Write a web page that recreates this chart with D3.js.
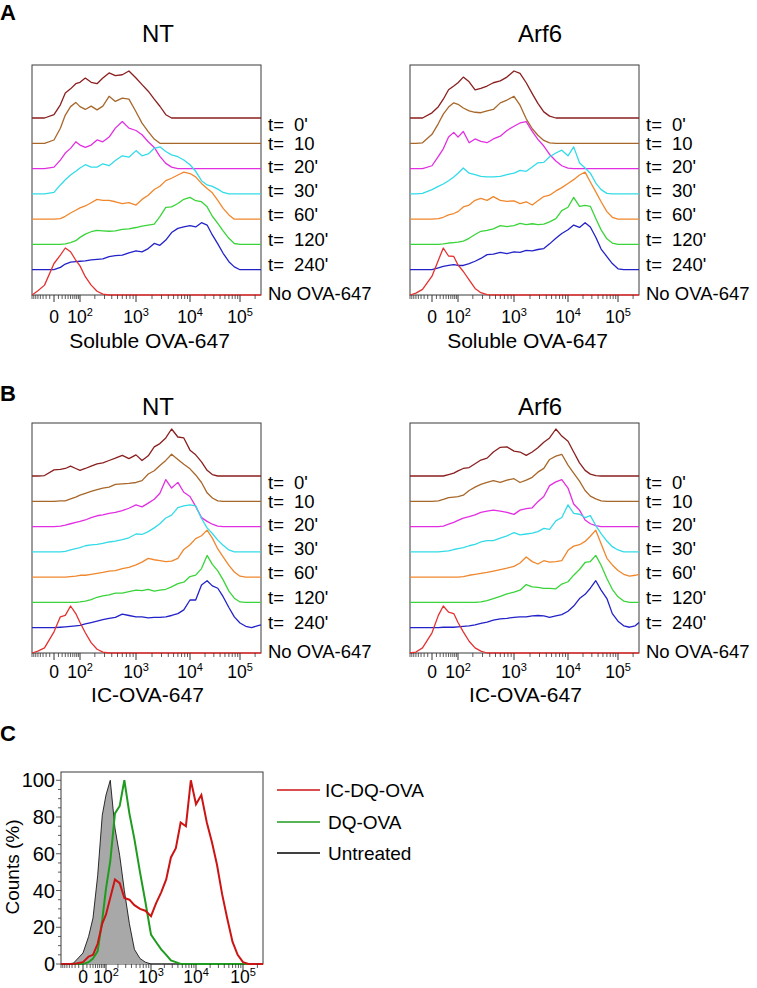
<!DOCTYPE html>
<html><head><meta charset="utf-8">
<script src="https://cdn.jsdelivr.net/npm/d3@7"></script>
<style>
body{margin:0;background:#fff}
svg{display:block}
text{font-family:"Liberation Sans",Arial,Helvetica,sans-serif;fill:#000}
</style>
</head><body>
<svg id="chart" width="757" height="988"></svg>
<script>
// ---------------- DATA ----------------
// fluorescence bins (intensity values along the biexponential x axis)
const bins = [-80,-50,-25,0,15,30,50,75,100,130,170,220,280,360,460,600,770,1000,1300,1700,2200,2800,3600,4600,6000,7700,10000,13000,17000,22000,28000,36000,46000,60000,77000,100000,130000,170000,220000,262144];

const seriesKeys = ["t0","t10","t20","t30","t60","t120","t240","none"];
const seriesLabels = [["t=","0'"],["t=","10"],["t=","20'"],["t=","30'"],["t=","60'"],["t=","120'"],["t=","240'"],["No OVA-647",""]];
const seriesColors = ["#8a1f1f","#a8672a","#e22fe2","#33dbe8","#f0872d","#3ad43a","#2222c8","#e53030"];

const majorTicks = [0,100,1000,10000,100000];
const majorTickLabels = [["0",""],["10","2"],["10","3"],["10","4"],["10","5"]];

// Panel A, NT (soluble OVA-647), % of mode
const aNT_t0   = [0,0,0,7,28,53,62,73,76,85,76,73,85,96,90,92,100,85,71,57,40,25,7,0,0,0,0,0,0,0,0,0,0,0,0,0,0,0,0,0];
const aNT_t10  = [0,0,0,7,32,60,78,87,78,72,79,71,79,100,89,96,94,67,43,25,9,0,0,0,0,0,0,0,0,0,0,0,0,0,0,0,0,0,0,0];
const aNT_t20  = [0,0,0,3,18,33,43,57,50,45,50,61,57,67,86,100,86,81,72,57,45,26,11,3,0,0,0,0,0,0,0,0,0,0,0,0,0,0,0,0];
const aNT_t30  = [0,0,0,3,19,30,40,48,55,62,57,57,64,60,71,81,78,92,81,85,97,100,90,83,79,72,62,48,28,19,16,10,3,0,0,0,0,0,0,0];
const aNT_t60  = [0,0,0,0,1,6,13,19,24,28,35,42,40,40,37,33,35,30,42,51,63,70,82,87,94,100,97,90,76,65,56,40,23,9,0,0,0,0,0,0];
const aNT_t120 = [0,0,0,0,0,1,4,8,15,22,27,30,29,28,29,32,33,36,39,41,43,59,79,80,87,96,100,93,91,80,60,45,29,13,2,0,0,0,0,0];
const aNT_t240 = [0,0,0,0,5,12,16,17,18,19,21,22,23,28,30,31,36,40,38,45,56,52,63,79,88,91,94,91,100,95,74,55,35,17,6,0,0,0,0,0];
const aNT_none = [0,9,21,67,85,100,92,74,62,39,21,8,2,0,0,0,0,0,0,0,0,0,0,0,0,0,0,0,0,0,0,0,0,0,0,0,0,0,0,0];

// Panel A, Arf6
const aArf_t0   = [0,0,0,11,24,40,60,68,75,87,77,60,63,68,75,79,87,100,95,75,52,31,13,4,0,0,0,0,0,0,0,0,0,0,0,0,0,0,0,0];
const aArf_t10  = [0,0,1,19,42,62,77,86,83,75,69,66,65,69,72,86,92,100,81,52,31,17,6,1,0,0,0,0,0,0,0,0,0,0,0,0,0,0,0,0];
const aArf_t20  = [0,0,0,6,26,42,67,77,67,79,55,63,58,55,63,69,81,90,97,100,79,62,48,30,16,6,1,0,0,0,0,0,0,0,0,0,0,0,0,0];
const aArf_t30  = [0,0,1,9,16,21,28,36,44,55,44,41,37,36,36,37,41,44,50,48,57,66,67,79,87,93,81,100,66,55,44,23,9,1,0,0,0,0,0,0];
const aArf_t60  = [0,0,0,0,1,4,9,12,16,26,30,40,44,40,48,40,38,39,33,37,30,39,48,51,60,67,76,84,94,100,79,58,37,16,4,0,0,0,0,0];
const aArf_t120 = [0,0,0,0,0,1,3,4,5,7,13,21,28,30,33,40,38,40,45,42,44,42,43,48,55,72,79,100,81,83,81,55,31,12,3,0,0,0,0,0];
const aArf_t240 = [0,0,0,0,4,7,9,11,9,9,13,18,24,32,33,37,34,38,37,41,40,43,45,55,67,77,85,95,90,100,91,69,44,28,13,2,0,0,0,0];
const aArf_none = [0,4,12,40,74,100,83,82,64,50,32,14,5,1,0,0,0,0,0,0,0,0,0,0,0,0,0,0,0,0,0,0,0,0,0,0,0,0,0,0];

// Panel B, NT (IC-OVA-647)
const bNT_t0   = [0,0,1,13,14,16,21,16,12,16,21,26,28,33,38,44,37,45,33,43,62,69,81,100,83,81,55,45,30,12,3,0,0,0,0,0,0,0,0,0];
const bNT_t10  = [0,0,0,0,1,1,5,9,13,17,21,25,28,30,36,37,38,40,44,58,65,76,87,100,89,79,69,56,40,18,7,1,0,0,0,0,0,0,0,0];
const bNT_t20  = [0,0,0,0,1,3,6,9,11,14,19,23,25,28,30,34,39,46,42,50,58,71,100,82,94,73,64,43,19,11,5,1,0,0,0,0,0,0,0,0];
const bNT_t30  = [0,0,0,0,0,1,4,7,9,13,15,16,18,21,23,26,30,38,37,43,51,60,72,78,94,98,100,98,71,51,39,25,14,4,0,0,0,0,0,0];
const bNT_t60  = [0,0,0,0,0,0,1,2,4,4,6,8,10,13,14,18,21,26,32,40,37,35,33,34,40,59,69,82,88,100,83,60,43,25,11,2,0,0,0,0];
const bNT_t120 = [0,0,0,0,0,0,0,0,1,3,6,11,14,16,20,20,23,26,25,28,24,26,28,33,40,43,55,58,72,100,81,67,48,24,9,1,0,0,0,0];
const bNT_t240 = [0,0,0,0,1,2,3,4,5,8,11,14,17,20,22,29,26,23,23,21,22,22,23,26,30,38,59,59,91,100,89,84,66,43,23,10,3,0,4,6];
const bNT_none = [0,4,11,45,77,80,100,84,65,43,22,8,2,0,0,0,0,0,0,0,0,0,0,0,0,0,0,0,0,0,0,0,0,0,0,0,0,0,0,0];

// Panel B, Arf6
const bArf_t0   = [0,0,0,0,0,0,3,6,11,16,18,26,34,38,51,61,62,53,51,44,51,60,72,81,100,85,74,51,28,12,4,1,0,0,0,0,0,0,0,0];
const bArf_t10  = [0,0,0,0,1,4,8,9,10,13,23,30,36,40,44,40,45,48,40,45,51,62,70,89,96,100,77,60,43,23,11,5,1,0,0,0,0,0,0,0];
const bArf_t20  = [0,0,0,0,0,1,5,9,13,18,21,25,30,33,35,33,30,26,35,38,40,53,64,87,95,100,82,48,35,14,6,2,0,0,0,0,0,0,0,0];
const bArf_t30  = [0,0,0,0,0,1,2,5,7,9,13,16,21,24,24,29,34,41,36,38,40,43,50,48,66,73,100,82,80,73,77,56,39,23,11,4,0,0,0,0];
const bArf_t60  = [0,0,0,0,0,0,0,0,0,1,4,6,8,10,13,16,19,23,30,43,33,28,35,32,33,35,57,66,69,76,87,100,71,40,26,14,6,2,4,6];
const bArf_t120 = [0,0,0,0,0,0,0,0,0,0,0,0,1,4,8,13,18,22,26,38,33,32,30,30,29,39,44,58,70,85,87,100,79,51,28,12,3,0,0,0];
const bArf_t240 = [0,0,0,0,0,1,1,1,2,3,4,6,9,12,16,19,20,22,23,23,25,26,25,22,25,28,35,46,62,71,84,100,80,62,30,14,4,1,4,11];
const bArf_none = [0,2,11,43,80,100,87,84,65,45,25,11,4,0,0,0,0,0,0,0,0,0,0,0,0,0,0,0,0,0,0,0,0,0,0,0,0,0,0,0];

// Panel C, Counts (%)
const cNames  = ["IC-DQ-OVA","DQ-OVA","Untreated"];
const cColors = ["#cc1414","#1f9c1f","#000000"];
const cUntreated = [0,0,0.5,6,15,25,48,81,92,100,74,59,40,22,8,3,1,0,0,0,0,0,0,0,0,0,0,0,0,0,0,0,0,0,0,0,0,0,0,0];
const cDQ        = [0,0,0,0,1,3,7,24,41,56,82,86,100,82,68,50,34,16,12,8,5,2,1,0,0,0,0,0,0,0,0,0,0,0,0,0,0,0,0,0];
const cICDQ      = [0,0,0,1,4,5,11,22,27,36,46,44,36,35,32,30,29,26,33,39,46,58,63,77,75,100,87,92,77,66,54,38,25,12,5,1,0,0,0,0];
const cYTicks = [0,20,40,60,80,100];

// ---------------- DRAWING ----------------
const svg = d3.select("#chart");
const anchors = [-80,0,100,1000,10000,100000,262144];
const sym = d3.scaleSymlog().constant(46).domain([-80,262144]).range([0,1]);
function makeX(stops){
  const lin = d3.scaleLinear().domain(anchors.map(v=>sym(v))).range(stops);
  return v => lin(sym(v));
}
const minorTicks = [];
for (let n=1;n<=5;n++) for (let k=1;k<=9;k++){ const v=k*Math.pow(10,n); if(v<=262144 && !majorTicks.includes(v)) minorTicks.push(v); }
for (let k=1;k<=8;k++) minorTicks.push(-k*10);

function xAxis(g, x, y, labelY, fs){
  g.selectAll("line.mi").data(minorTicks).join("line").attr("class","mi")
    .attr("x1",d=>x(d)).attr("x2",d=>x(d)).attr("y1",y).attr("y2",y+4)
    .attr("stroke","#333").attr("stroke-width",0.8);
  g.selectAll("line.ma").data(majorTicks).join("line").attr("class","ma")
    .attr("x1",d=>x(d)).attr("x2",d=>x(d)).attr("y1",y).attr("y2",y+7)
    .attr("stroke","#333").attr("stroke-width",1);
  const t = g.selectAll("text.tl").data(majorTicks).join("text").attr("class","tl")
    .attr("x",d=>x(d)).attr("y",labelY).attr("text-anchor","middle").attr("font-size",fs);
  t.append("tspan").text((d,i)=>majorTickLabels[i][0]);
  t.append("tspan").attr("dy",-7).attr("font-size",11).text((d,i)=>majorTickLabels[i][1]);
}

function ridgePanel(cfg){
  const g = svg.append("g");
  const x = makeX(cfg.stops);
  const left = cfg.stops[0], right = cfg.stops[6];
  const base = d3.scalePoint().domain(seriesKeys).range([cfg.bottom-177, cfg.bottom]);
  const h = d3.scaleLinear().domain([0,100]).range([0,47]);
  g.append("rect").attr("x",left).attr("y",cfg.top).attr("width",right-left).attr("height",cfg.bottom-cfg.top)
    .attr("fill","none").attr("stroke","#3a3a3a").attr("stroke-width",1);
  cfg.series.forEach((arr,si)=>{
    const key = seriesKeys[si];
    const line = d3.line().x((d,i)=>x(bins[i])).y(d=>base(key)-h(d));
    g.append("path").datum(arr).attr("d",line).attr("fill","none")
      .attr("stroke",seriesColors[si]).attr("stroke-width",1.3).attr("stroke-linejoin","round");
  });
  xAxis(g, x, cfg.bottom, cfg.bottom+cfg.tickDy, 17.5);
  g.append("text").attr("x",cfg.titleX).attr("y",cfg.titleY).attr("text-anchor","middle").attr("font-size",24).text(cfg.title);
  g.append("text").attr("x",(left+right)/2 + cfg.axisDx).attr("y",cfg.bottom+cfg.axisDy).attr("text-anchor","middle").attr("font-size",21).text(cfg.xlabel);
  const labOff = [-171,-152,-129,-105,-81,-56,-31,-2];
  seriesLabels.forEach((lab,i)=>{
    const t = g.append("text").attr("x",right+7).attr("y",cfg.bottom+labOff[i]+6.5).attr("font-size",18.5);
    t.append("tspan").text(lab[0]);
    if(lab[1]) t.append("tspan").attr("x",right+33).text(lab[1]);
  });
}

ridgePanel({stops:[32,54,80,136,190,240,261], top:65, bottom:295, title:"NT", titleX:158, titleY:42, xlabel:"Soluble OVA-647", tickDy:28, axisDy:53, axisDx:3,
  series:[aNT_t0,aNT_t10,aNT_t20,aNT_t30,aNT_t60,aNT_t120,aNT_t240,aNT_none]});
ridgePanel({stops:[410,432,458,514,568,618,639], top:65, bottom:295, title:"Arf6", titleX:540, titleY:42, xlabel:"Soluble OVA-647", tickDy:28, axisDy:53, axisDx:3,
  series:[aArf_t0,aArf_t10,aArf_t20,aArf_t30,aArf_t60,aArf_t120,aArf_t240,aArf_none]});
ridgePanel({stops:[32,54,80,136,190,240,261], top:423, bottom:653, title:"NT", titleX:158, titleY:415, xlabel:"IC-OVA-647", tickDy:25, axisDy:49, axisDx:1,
  series:[bNT_t0,bNT_t10,bNT_t20,bNT_t30,bNT_t60,bNT_t120,bNT_t240,bNT_none]});
ridgePanel({stops:[410,432,458,514,568,618,639], top:423, bottom:653, title:"Arf6", titleX:540, titleY:415, xlabel:"IC-OVA-647", tickDy:25, axisDy:49, axisDx:1,
  series:[bArf_t0,bArf_t10,bArf_t20,bArf_t30,bArf_t60,bArf_t120,bArf_t240,bArf_none]});

// panel letters
[["A",20],["B",401],["C",741]].forEach(([l,y])=>{
  svg.append("text").attr("x",0).attr("y",y).attr("font-size",22).attr("font-weight","bold").text(l);
});

// ---- Panel C ----
(function(){
  const g = svg.append("g");
  const stops = [61,83,106,151,196,243,263];
  const x = makeX(stops);
  const top = 772, bottom = 964, left = 61, right = 263;
  const y = d3.scaleLinear().domain([0,104.5]).range([bottom, top]);
  g.append("rect").attr("x",left).attr("y",top).attr("width",right-left).attr("height",bottom-top)
    .attr("fill","none").attr("stroke","#3a3a3a").attr("stroke-width",1);
  const area = d3.area().x((d,i)=>x(bins[i])).y0(y(0)).y1(d=>y(d));
  const line = d3.line().x((d,i)=>x(bins[i])).y(d=>y(d));
  g.append("path").datum(cUntreated).attr("d",area).attr("fill","#a8a8a8");
  g.append("path").datum(cUntreated).attr("d",line).attr("fill","none").attr("stroke","#000").attr("stroke-width",0.8);
  g.append("path").datum(cDQ).attr("d",line).attr("fill","none").attr("stroke",cColors[1]).attr("stroke-width",2);
  g.append("path").datum(cICDQ).attr("d",line).attr("fill","none").attr("stroke",cColors[0]).attr("stroke-width",2);
  xAxis(g, x, bottom, 983, 17.5);
  // y axis
  const yMinor = d3.range(0,101,5);
  g.selectAll("line.ym").data(yMinor).join("line").attr("class","ym")
    .attr("x1",left).attr("x2",d=>cYTicks.includes(d)?left-5:left-3).attr("y1",d=>y(d)).attr("y2",d=>y(d))
    .attr("stroke","#333").attr("stroke-width",0.8);
  g.selectAll("text.yl").data(cYTicks).join("text").attr("class","yl")
    .attr("x",55).attr("y",d=>y(d)+7).attr("text-anchor","end").attr("font-size",20).text(d=>d);
  g.append("text").attr("transform","translate(19,867) rotate(-90)").attr("text-anchor","middle").attr("font-size",19).text("Counts (%)");
  // legend
  const ly = [790,822,853];
  cNames.forEach((n,i)=>{
    g.append("line").attr("x1",277).attr("x2",320).attr("y1",ly[i]).attr("y2",ly[i]).attr("stroke",cColors[i]).attr("stroke-width",1.5);
    g.append("text").attr("x",i===0?325:328).attr("y",ly[i]+7).attr("font-size",19).text(n);
  });
})();
</script>
</body></html>
